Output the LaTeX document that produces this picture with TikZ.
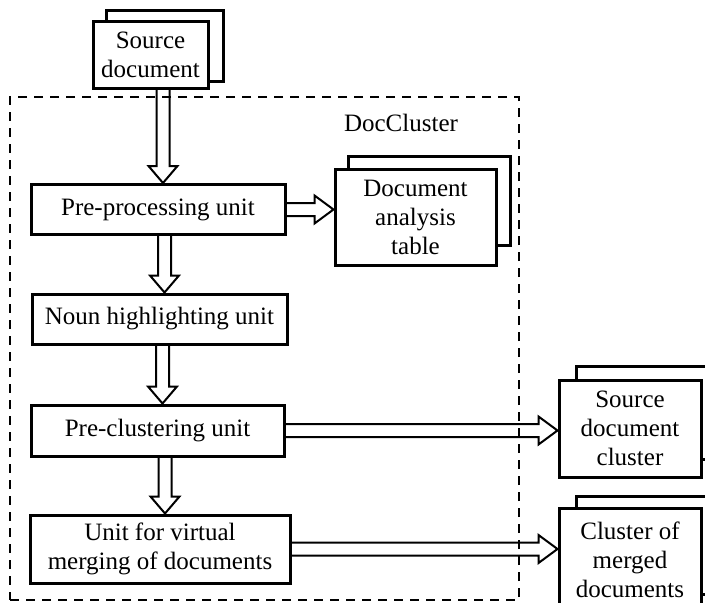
\documentclass[tikz,border=0pt]{standalone}
\usepackage{fontspec}
\setmainfont{Liberation Serif}
\usetikzlibrary{calc, backgrounds}

% hollow arrow going down from #1 to #2
\newcommand{\fatdown}[2]{%
    \draw[fat] ($(#2.north |- #1.south)+(-1.5,0)$) -- ($(#2.north)+(-1.5,-17)$)
        -- ($(#2.north)+(-9.5,-17)$) -- ($(#2.north)+(5,0)$)
        -- ($(#2.north)+(19.5,-17)$) -- ($(#2.north)+(11.5,-17)$)
        -- ($(#2.north |- #1.south)+(11.5,0)$);}
% hollow arrow going right from #1 to #2
\newcommand{\fatright}[2]{%
    \draw[fat] ($(#1.east)+(0,-6.5)$) -- ($(#2.west |- #1.east)+(-19,-6.5)$)
        -- ($(#2.west |- #1.east)+(-19,-14)$) -- (#2.west |- #1.east)
        -- ($(#2.west |- #1.east)+(-19,14)$) -- ($(#2.west |- #1.east)+(-19,6.5)$)
        -- ($(#1.east)+(0,6.5)$);}

\begin{document}
\begin{tikzpicture}[
            x = 1pt, y = -1pt, % pixel units, y goes down
            every node/.style = {font = \fontsize{25}{29}\selectfont},
            unit/.style = {draw, line width = 3pt, fill = white, inner sep = 0pt, align = center},
            sheet/.style = {draw, line width = 3pt, fill = white},
            fat/.style = {line width = 2pt},
            frame/.style = {draw, line width = 2pt, dash pattern = on 9pt off 7pt}
        ]

        \useasboundingbox (0,0) rectangle (705,603);

        % dashed DocCluster border
        \node[frame, minimum width = 509pt, minimum height = 503pt] (doccluster) at (264.5,348.5) {};
        \node (lbl) at (401,123) {DocCluster};

        \node[unit, minimum width = 115pt, minimum height = 67pt] (src) at (150.5,54.5) {Source\\document};
        \node[unit, minimum width = 254pt, minimum height = 50pt] (pre) at (158,209.5) {Pre-processing unit};
        \node[unit, minimum width = 255pt, minimum height = 50pt] (noun) at (159.5,319) {Noun highlighting unit};
        \node[unit, minimum width = 253pt, minimum height = 51pt] (pclu) at (157.5,430.5) {Pre-clustering unit};
        \node[unit, minimum width = 260pt, minimum height = 68pt] (merge) at (160,549) {Unit for virtual\\merging of documents};

        \node[unit, minimum width = 161pt, minimum height = 96pt] (dat) at (415.5,217) {Document\\analysis\\table};
        \node[unit, minimum width = 142pt, minimum height = 97pt] (sdc) at (630,428.5) {Source\\document\\cluster};
        \node[unit, minimum width = 142pt, minimum height = 104pt] (cmd) at (630,560) {Cluster of\\merged\\documents};

        % sheets behind the documents
        \begin{scope}[on background layer]
            \draw[sheet] ($(src.north west)+(15,-9)$) rectangle ($(src.south east)+(14,-8)$);
            \draw[sheet] ($(dat.north west)+(15,-11)$) rectangle ($(dat.south east)+(13,-21)$);
            \draw[sheet] ($(sdc.north west)+(19,-12)$) rectangle ($(sdc.south east)+(15,-19)$);
            \draw[sheet] ($(cmd.north west)+(19,-10)$) rectangle ($(cmd.south east)+(15,-19)$);
        \end{scope}

        \fatdown{src}{pre}
        \fatdown{pre}{noun}
        \fatdown{noun}{pclu}
        \fatdown{pclu}{merge}

        \fatright{pre}{dat}
        \fatright{pclu}{sdc}
        \fatright{merge}{cmd}
    \end{tikzpicture}
\end{document}
